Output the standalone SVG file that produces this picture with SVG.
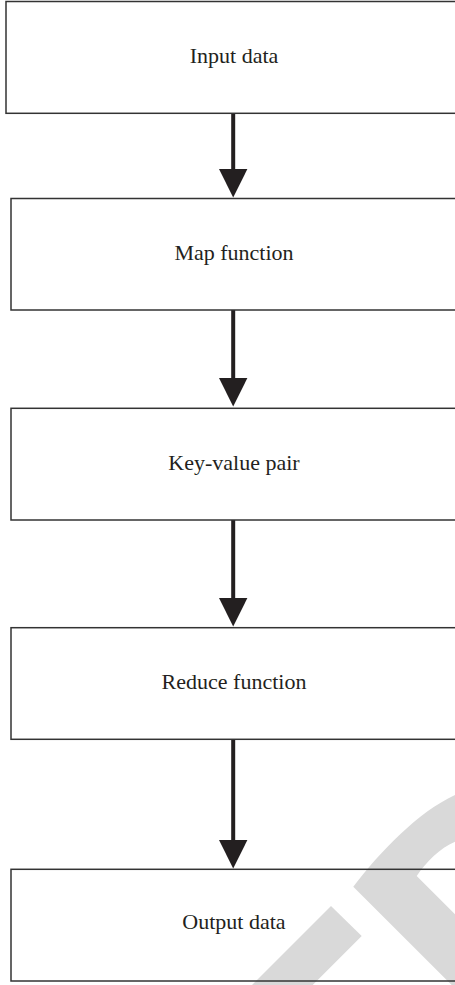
<svg xmlns="http://www.w3.org/2000/svg" width="455" height="985" viewBox="0 0 455 985">
<style>
.box{fill:none;stroke:#333;stroke-width:1.5}
.lbl{font-family:"Liberation Serif","Times New Roman",serif;font-size:22px;fill:#231f20;text-anchor:middle}
.wm{fill:#d9d9d9}
.conn line{stroke:#231f20;stroke-width:4}
.conn polygon{fill:#231f20}
</style>
<rect width="455" height="985" fill="#fff"/>
<g id="watermark">
<path class="wm" d="M353.3,886.7 C380,852 418,812 455,795 L455,841.7 C440,848 426,862 416.7,876 L455,914.3 L455,985 L451.7,985 Z"/>
<path class="wm" d="M331,906 L361.7,936 L312.7,985 L252,985 Z"/>
</g>
<g id="connectors" class="conn">
<line x1="233.2" y1="113.5" x2="233.2" y2="171"/>
<polygon points="219,169 247.4,169 233.2,197.5"/>
<line x1="233.2" y1="310" x2="233.2" y2="380"/>
<polygon points="219,378 247.4,378 233.2,406.5"/>
<line x1="233.2" y1="520" x2="233.2" y2="600"/>
<polygon points="219,598 247.4,598 233.2,626.5"/>
<line x1="233.2" y1="739.3" x2="233.2" y2="842"/>
<polygon points="219,840 247.4,840 233.2,868.5"/>
</g>
<g id="n1"><rect class="box" x="6" y="1.5" width="460" height="111.8"/><text class="lbl" x="234" y="63">Input data</text></g>
<g id="n2"><rect class="box" x="11" y="198.5" width="460" height="111.5"/><text class="lbl" x="234" y="260">Map function</text></g>
<g id="n3"><rect class="box" x="11" y="408.3" width="460" height="111.7"/><text class="lbl" x="234" y="470">Key-value pair</text></g>
<g id="n4"><rect class="box" x="11" y="627.7" width="460" height="111.6"/><text class="lbl" x="234" y="689">Reduce function</text></g>
<g id="n5"><rect class="box" x="11" y="869.3" width="460" height="111.7"/><text class="lbl" x="234" y="929">Output data</text></g>
</svg>
